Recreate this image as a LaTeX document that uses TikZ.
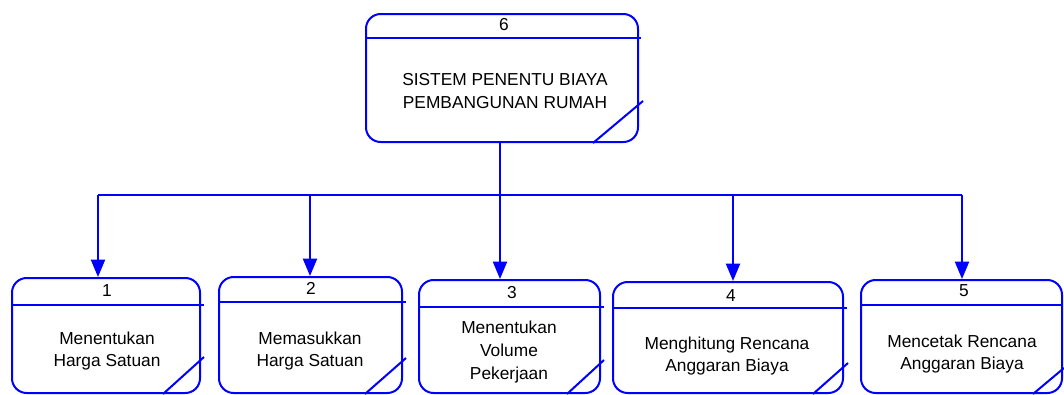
\documentclass[tikz,border=0pt]{standalone}
\usepackage{fontspec}
\setmainfont{Liberation Sans}
\usetikzlibrary{arrows.meta,fit}
\definecolor{dfdblue}{HTML}{0000FF}

\begin{document}
\begin{tikzpicture}[
  x=0.75pt,
  y=-0.75pt,
  line join=round,
  procbox/.style={draw=dfdblue,line width=1.5pt,rounded corners=11pt,inner sep=0pt},
  procline/.style={draw=dfdblue,line width=1.5pt},
  flow/.style={draw=dfdblue,line width=1.5pt,-{Triangle[length=13pt,width=10.5pt]}},
  bus/.style={draw=dfdblue,line width=1.5pt},
  procnum/.style={inner sep=0pt,font=\fontsize{13}{15}\selectfont},
  proctext/.style={inner sep=0pt,align=center,font=\fontsize{13}{16.9}\selectfont}
]
  % Fixed frame, same proportions as the reference.
  \useasboundingbox (0,0) rectangle (1064,394);

  % Process boxes.
  \node[procbox,fit={(366,14) (638,142)}] (p6) {};
  \node[procbox,fit={(12,278) (200,393)}] (p1) {};
  \node[procbox,fit={(219,277) (402,393)}] (p2) {};
  \node[procbox,fit={(419,280) (600,393)}] (p3) {};
  \node[procbox,fit={(613,282) (843,393)}] (p4) {};
  \node[procbox,fit={(861,280) (1062,393)}] (p5) {};

  % Header dividers, running a little past the right edge.
  \draw[procline] (p6.west |- 0,38) -- ([xshift=1.5pt]p6.east |- 0,38);
  \draw[procline] (p1.west |- 0,305) -- ([xshift=2pt]p1.east |- 0,305);
  \draw[procline] (p2.west |- 0,302) -- ([xshift=2pt]p2.east |- 0,302);
  \draw[procline] (p3.west |- 0,307) -- ([xshift=2pt]p3.east |- 0,307);
  \draw[procline] (p4.west |- 0,308) -- ([xshift=2pt]p4.east |- 0,308);
  \draw[procline] (p5.west |- 0,305) -- (p5.east |- 0,305);

  % Corner slashes.
  \draw[procline] (593,143) -- (643,101);
  \draw[procline] (163,394) -- (204,357);
  \draw[procline] (365,394) -- (406,358);
  \draw[procline] (567,394) -- (604,360);
  \draw[procline] (813,394) -- (848,363);
  \draw[procline] (1033,394) -- (1064,368);

  % Numbers and names.
  \node[procnum] (n6) at (504,25) {6};
  \node[proctext] (t6) at (505,91) {SISTEM PENENTU BIAYA\\PEMBANGUNAN RUMAH};
  \node[procnum] (n1) at (107,291) {1};
  \node[proctext] (t1) at (107,351) {Menentukan\\Harga Satuan};
  \node[procnum] (n2) at (311,288) {2};
  \node[proctext] (t2) at (310,351) {Memasukkan\\Harga Satuan};
  \node[procnum] (n3) at (512,293) {3};
  \node[proctext] (t3) at (509,352) {Menentukan\\Volume\\Pekerjaan};
  \node[procnum] (n4) at (731,296) {4};
  \node[proctext] (t4) at (727,356) {Menghitung Rencana\\Anggaran Biaya};
  \node[procnum] (n5) at (964,291) {5};
  \node[proctext] (t5) at (962,354) {Mencetak Rencana\\Anggaran Biaya};

  % Distribution bus.
  \coordinate (b1) at (98,195);
  \coordinate (b2) at (310,195);
  \coordinate (b3) at (500,195);
  \coordinate (b4) at (733,195);
  \coordinate (b5) at (962,195);
  \draw[bus] (b1) -- (b5);

  % Flows down to the sub-processes.
  \draw[flow] (b3 |- p6.south) -- (b3 |- p3.north);
  \draw[flow] (b1) -- (b1 |- p1.north);
  \draw[flow] (b2) -- (b2 |- p2.north);
  \draw[flow] (b4) -- (b4 |- p4.north);
  \draw[flow] (b5) -- (b5 |- p5.north);
\end{tikzpicture}
\end{document}
